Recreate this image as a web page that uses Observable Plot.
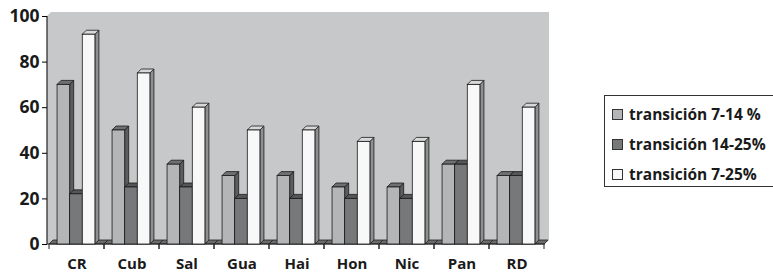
<!DOCTYPE html>
<html>
<head>
<meta charset="utf-8">
<script src="https://cdn.jsdelivr.net/npm/d3@7"></script>
<script src="https://cdn.jsdelivr.net/npm/@observablehq/plot@0.6"></script>
<style>
  html, body { margin: 0; padding: 0; background: #fff; }
  #wrap { position: relative; width: 773px; height: 274px; overflow: hidden; font-family: "Open Sans", sans-serif; }
  #legend { position: absolute; left: 604px; top: 95px; width: 176px; height: 92px; border: 1px solid #333; box-sizing: border-box; background: #fff; }
  .row { position: absolute; left: 7px; display: flex; align-items: center; font-weight: bold; font-size: 15.5px; color: #1a1a1a; white-space: nowrap; }
  .sw { width: 9px; height: 9px; border: 1px solid #333; margin-right: 6px; }
</style>
</head>
<body>
<div id="wrap"><div id="legend"></div></div>
<script>
const categories = ["CR", "Cub", "Sal", "Gua", "Hai", "Hon", "Nic", "Pan", "RD"];
const seriesNames = ["transición 7-14 %", "transición 14-25%", "transición 7-25%"];
const s1 = [70, 50, 35, 30, 30, 25, 25, 35, 30];
const s2 = [22, 25, 25, 20, 20, 20, 20, 35, 30];
const s3 = [92, 75, 60, 50, 50, 45, 45, 70, 60];
const yTicks = [0, 20, 40, 60, 80, 100];

const frontColors = ["#b4b5b7", "#77787a", "#f8f8f8"];
const topColors = ["#6f7072", "#555658", "#d8d8d8"];
const sideColors = ["#5c5d5f", "#48494b", "#8e8f91"];
const wallColor = "#c7c8ca";
const D = 4; // 3D depth (px)

const rows = [];
[s1, s2, s3].forEach((vals, si) => vals.forEach((v, ci) => rows.push({cat: categories[ci], series: seriesNames[si], value: v})));

function wallRender(index, scales, values, dims) {
  const g = d3.create("svg:g");
  const [x0, x1] = scales.x.range();
  const y0 = scales.y(0), yTop = scales.y(100);
  g.append("path")
    .attr("d", `M${x0},${y0}L${x0},${yTop}L${x0 + D},${yTop - D}L${x1 + D},${yTop - D}L${x1 + D},${y0 - D}L${x1},${y0}Z`)
    .attr("fill", wallColor);
  for (const c of categories) {
    const a = scales.x(c), b = a + scales.x.bandwidth();
    g.append("path")
      .attr("d", `M${a},${y0}L${a + D},${y0 - D}L${b + D},${y0 - D}L${b},${y0}Z`)
      .attr("fill", "#6a6b6d").attr("stroke", "#222").attr("stroke-width", 0.8);
    g.append("line").attr("x1", a).attr("x2", a).attr("y1", y0).attr("y2", y0 + 5).attr("stroke", "#222");
    g.append("line").attr("x1", b).attr("x2", b).attr("y1", y0).attr("y2", y0 + 5).attr("stroke", "#222");
  }
  g.append("line").attr("x1", x0).attr("x2", x1).attr("y1", y0).attr("y2", y0).attr("stroke", "#222").attr("stroke-width", 1.2);
  g.append("line").attr("x1", x0).attr("x2", x0).attr("y1", y0).attr("y2", yTop).attr("stroke", "#222").attr("stroke-width", 1.2);
  return g.node();
}

function barRender(index, scales, values) {
  const g = d3.create("svg:g");
  const bw = scales.x.bandwidth();
  for (const i of index) {
    const r = rows[i];
    const si = seriesNames.indexOf(r.series);
    const sub = d3.scaleBand(seriesNames, [scales.x(r.cat), scales.x(r.cat) + bw]).paddingInner(0).paddingOuter(0.68).align(0.47);
    const x = sub(r.series), w = sub.bandwidth();
    const yt = scales.y(r.value), yb = scales.y(0);
    g.append("path").attr("d", `M${x + w},${yt}L${x + w + D},${yt - D}L${x + w + D},${yb - D}L${x + w},${yb}Z`)
      .attr("fill", sideColors[si]).attr("stroke", "#1a1a1a").attr("stroke-width", 0.8);
    g.append("path").attr("d", `M${x},${yt}L${x + D},${yt - D}L${x + w + D},${yt - D}L${x + w},${yt}Z`)
      .attr("fill", topColors[si]).attr("stroke", "#1a1a1a").attr("stroke-width", 0.8);
    g.append("rect").attr("x", x).attr("y", yt).attr("width", w).attr("height", yb - yt)
      .attr("fill", values.fill ? values.fill[i] : frontColors[si]).attr("stroke", "#1a1a1a").attr("stroke-width", 0.8);
  }
  return g.node();
}

const chart = Plot.plot({
  width: 773,
  height: 274,
  marginLeft: 47,
  marginRight: 228,
  marginTop: 16,
  marginBottom: 30,
  style: {fontFamily: "Open Sans, sans-serif", background: "transparent"},
  x: {domain: categories, padding: 0},
  y: {domain: [0, 100]},
  color: {domain: seriesNames, range: frontColors},
  marks: [
    Plot.frame({stroke: "none", render: wallRender}),
    Plot.barY(rows, {x: "cat", y: "value", fill: "series", render: barRender}),
    Plot.axisY({ticks: yTicks, tickSize: 5, tickPadding: 3, fontSize: 17.5, fontWeight: "bold", label: null, fill: "#1a1a1a"}),
    Plot.axisX({tickSize: 0, tickPadding: 14, fontSize: 15, fontWeight: "bold", label: null, fill: "#1a1a1a"})
  ]
});
const wrap = document.getElementById("wrap");
wrap.insertBefore(chart, wrap.firstChild);

const legend = document.getElementById("legend");
const rowTops = [7, 37, 67];
seriesNames.forEach((name, i) => {
  const row = document.createElement("div");
  row.className = "row";
  row.style.top = rowTops[i] + "px";
  const sw = document.createElement("span");
  sw.className = "sw";
  sw.style.background = frontColors[i];
  row.appendChild(sw);
  row.appendChild(document.createTextNode(name));
  legend.appendChild(row);
});
</script>
</body>
</html>
